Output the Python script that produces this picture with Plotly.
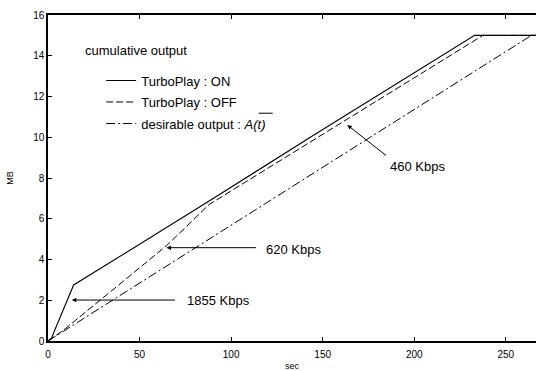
import plotly.graph_objects as go

# ---- data (seconds, MB) ----
on_t = [0, 2, 4, 8, 12, 14, 50, 88, 145, 233, 266.5]
on_mb = [0, 0.15, 0.6, 1.5, 2.3, 2.75, 4.75, 6.87, 10.1, 15, 15]

off_t = [0, 8, 42, 65, 88, 237.5, 266.5]
off_mb = [0, 0.5, 3.0, 4.7, 6.7, 15, 15]

des_t = [0, 264, 266.5]
des_mb = [0, 15, 15]

x_ticks = [0, 50, 100, 150, 200, 250]
y_ticks = [0, 2, 4, 6, 8, 10, 12, 14, 16]

FONT = "Liberation Sans, Arial, sans-serif"

fig = go.Figure()
fig.add_trace(go.Scatter(x=on_t, y=on_mb, mode="lines", name="TurboPlay : ON",
                         legendgroup="a", line=dict(color="black", width=1.1)))
fig.add_trace(go.Scatter(x=off_t, y=off_mb, mode="lines", name="TurboPlay : OFF",
                         legendgroup="b", line=dict(color="black", width=1, dash="7px,3px")))
fig.add_trace(go.Scatter(x=des_t, y=des_mb, mode="lines",
                         name="desirable output : <i>A(t)</i>",
                         legendgroup="c", line=dict(color="black", width=1, dash="9px,3px,2px,3px")))

ann_font = dict(family=FONT, size=13, color="black")
annotations = [
    dict(x=19, y=14.25, xref="x", yref="y", text="cumulative output", showarrow=False,
         xanchor="left", yanchor="middle", font=ann_font),
    # arrows
    dict(x=13.0, y=2.01, ax=70.1, ay=2.01, xref="x", yref="y", axref="x", ayref="y",
         text="", showarrow=True, arrowhead=2, arrowsize=0.9, arrowwidth=1, arrowcolor="black"),
    dict(x=64.7, y=4.58, ax=114.5, ay=4.58, xref="x", yref="y", axref="x", ayref="y",
         text="", showarrow=True, arrowhead=2, arrowsize=0.9, arrowwidth=1, arrowcolor="black"),
    dict(x=163.5, y=10.6, ax=185.4, ay=9.05, xref="x", yref="y", axref="x", ayref="y",
         text="", showarrow=True, arrowhead=2, arrowsize=0.9, arrowwidth=1, arrowcolor="black"),
    # labels
    dict(x=74.7, y=1.98, xref="x", yref="y", text="1855 Kbps", showarrow=False,
         xanchor="left", yanchor="middle", font=ann_font),
    dict(x=117.8, y=4.5, xref="x", yref="y", text="620 Kbps", showarrow=False,
         xanchor="left", yanchor="middle", font=ann_font),
    dict(x=185.5, y=8.55, xref="x", yref="y", text="460 Kbps", showarrow=False,
         xanchor="left", yanchor="middle", font=ann_font),
]

axis_common = dict(showline=True, linecolor="black", linewidth=1.5, ticks="inside",
                   ticklen=4, tickwidth=1, tickcolor="black", showgrid=False, zeroline=False,
                   tickfont=dict(family=FONT, size=10, color="black"))

fig.update_layout(
    width=536, height=371,
    margin=dict(l=48, r=0, t=15, b=30),
    paper_bgcolor="white", plot_bgcolor="white",
    showlegend=True,
    legend=dict(x=0.109, y=0.845, xanchor="left", yanchor="top", bgcolor="rgba(0,0,0,0)",
                font=dict(family=FONT, size=13, color="black"), tracegroupgap=1.6,
                traceorder="grouped"),
    xaxis=dict(range=[0, 266.5], tickvals=x_ticks, mirror="ticks", ticklabelstandoff=3,
               title=dict(text="sec", standoff=9, font=dict(family=FONT, size=9, color="black")),
               automargin=False, **axis_common),
    yaxis=dict(range=[0, 16], tickvals=y_ticks, mirror=False,
               title=dict(text="MB", standoff=18, font=dict(family=FONT, size=9, color="black")),
               automargin=False, **axis_common),
    yaxis2=dict(range=[0, 16], overlaying="y", side="right", tickvals=y_ticks, ticks="inside",
                ticklen=4, tickcolor="black", showticklabels=False, showline=False,
                showgrid=False, zeroline=False),
    annotations=annotations,
    shapes=[dict(type="line", xref="x", yref="y", x0=115.1, x1=122.7, y0=11.18, y1=11.18,
                 line=dict(color="black", width=1))],
)

fig.write_html("out.html", config={"displayModeBar": False},
               post_script="document.body.style.margin='0';document.body.style.overflow='hidden';")
